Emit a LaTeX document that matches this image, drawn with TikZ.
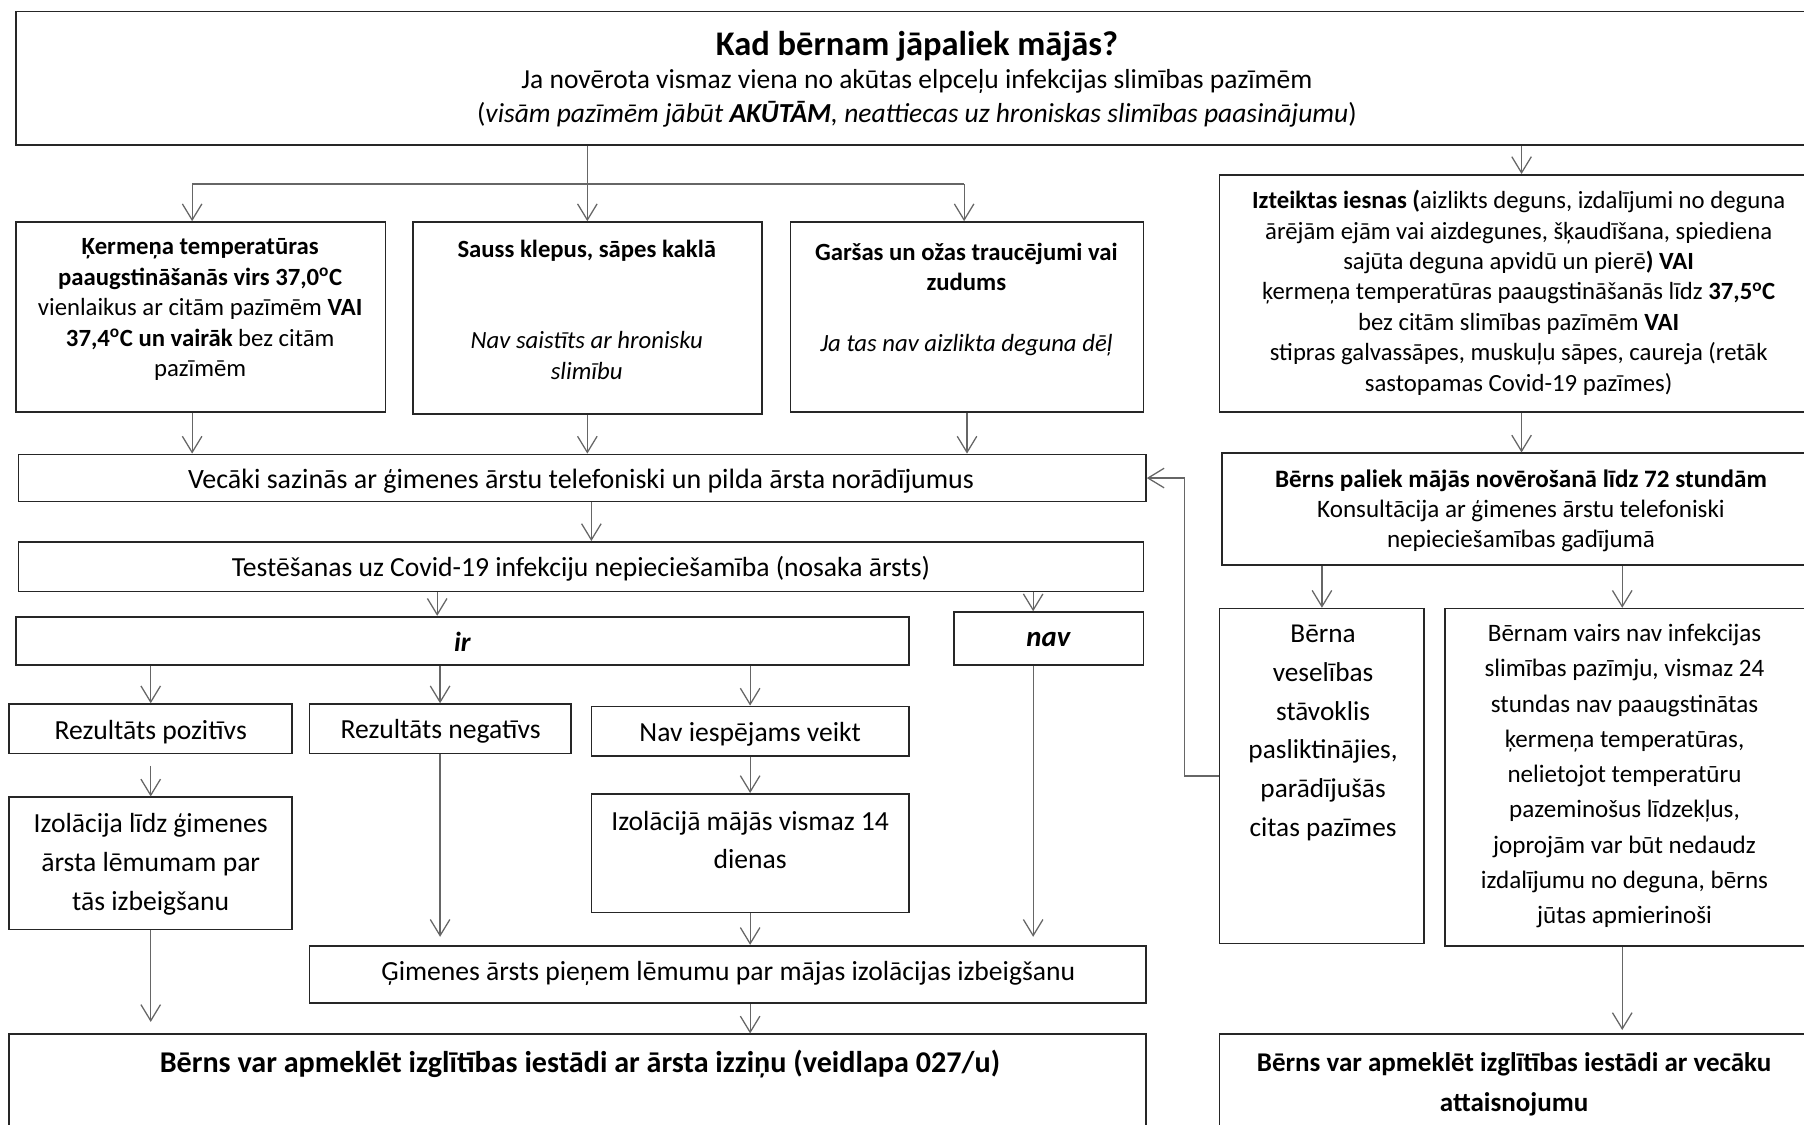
\documentclass[tikz,border=0pt]{standalone}
\usepackage{fontspec}
\setmainfont{Carlito}
\usetikzlibrary{arrows.meta,fit}
\begin{document}
\begin{tikzpicture}[x=1pt,y=-1pt,
  box/.style={draw=black!85,line width=1.5pt,inner sep=0pt},
  txt/.style={align=center,inner sep=0pt,font=\fontsize{21.5}{26.5}\selectfont},
  big/.style={align=center,inner sep=0pt,font=\fontsize{24}{29}\selectfont},
  arr/.style={draw=black!60,line width=1.1pt,-{Straight Barb[length=14pt,width=17pt,line width=1.1pt]}},
  ln/.style={draw=black!60,line width=1.1pt}]
\useasboundingbox (0,0) rectangle (1568,977);
\clip (0,0) rectangle (1568,977);
\fill[white] (0,0) rectangle (1568,977);

% ---------- boxes ----------
\node[box,fit={(14,10) (1585,126)}] (top) {};
\node[box,fit={(14,193) (335,358)}] (A) {};
\node[box,fit={(359,193) (662,360)}] (B) {};
\node[box,fit={(687,193) (994,358)}] (C) {};
\node[box,fit={(1060,152) (1585,358)}] (D) {};
\node[box,fit={(16,395) (996,436)}] (E) {};
\node[box,fit={(16,471) (994,514)}] (F) {};
\node[box,fit={(14,536) (790,578)}] (G) {};
\node[box,fit={(829,532) (994,578)}] (H) {};
\node[box,fit={(8,612) (254,655)}] (I) {};
\node[box,fit={(269,612) (496,655)}] (J) {};
\node[box,fit={(514,614) (790,657)}] (K) {};
\node[box,fit={(8,693) (254,808)}] (L) {};
\node[box,fit={(514,690) (790,793)}] (N) {};
\node[box,fit={(269,822) (996,872)}] (M) {};
\node[box,fit={(8,899) (996,995)}] (O) {};
\node[box,fit={(1062,394) (1585,491)}] (P) {};
\node[box,fit={(1060,529) (1238,820)}] (Q) {};
\node[box,fit={(1256,529) (1585,822)}] (R) {};
\node[box,fit={(1060,899) (1585,995)}] (S) {};

% ---------- texts ----------
\node[inner sep=0pt,font=\bfseries\fontsize{30}{36}\selectfont] (title) at (797,40) {Kad bērnam jāpaliek mājās?};
\node[txt,font=\fontsize{23.9}{29}\selectfont] (sub) at (797,85.5) {Ja novērota vismaz viena no akūtas elpceļu infekcijas slimības pazīmēm\\(\textit{visām pazīmēm jābūt \textbf{AKŪTĀM}, neattiecas uz hroniskas slimības paasinājumu})};
\node[txt] (At) at (174,269) {\textbf{Ķermeņa temperatūras}\\\textbf{paaugstināšanās virs 37,0\textsuperscript{o}C}\\vienlaikus ar citām pazīmēm \textbf{VAI}\\\textbf{37,4\textsuperscript{o}C un vairāk} bez citām\\pazīmēm};
\node[txt] (Bt) at (510,269) {\textbf{Sauss klepus, sāpes kaklā}\\[53pt]\textit{Nav saistīts ar hronisku}\\\textit{slimību}};
\node[txt] (Ct) at (840,260.5) {\textbf{Garšas un ožas traucējumi vai}\\\textbf{zudums}\\[26.5pt]\textit{Ja tas nav aizlikta deguna dēļ}};
\node[txt] (Dt) at (1320,254.5) {\textbf{Izteiktas iesnas (}aizlikts deguns, izdalījumi no deguna\\ārējām ejām vai aizdegunes, šķaudīšana, spiediena\\sajūta deguna apvidū un pierē\textbf{) VAI}\\ķermeņa temperatūras paaugstināšanās līdz \textbf{37,5\textsuperscript{o}C}\\bez citām slimības pazīmēm \textbf{VAI}\\stipras galvassāpes, muskuļu sāpes, caureja (retāk\\sastopamas Covid-19 pazīmes)};
\node[big,font=\fontsize{24.3}{29}\selectfont] (Et) at (505,418) {Vecāki sazinās ar ģimenes ārstu telefoniski un pilda ārsta norādījumus};
\node[big] (Ft) at (505,494) {Testēšanas uz Covid-19 infekciju nepieciešamība (nosaka ārsts)};
\node[big] (Gt) at (402,558) {\textbf{\textit{ir}}};
\node[big,font=\fontsize{25}{29}\selectfont] (Ht) at (911.5,556) {\textbf{\textit{nav}}};
\node[big] (It) at (131,636) {Rezultāts pozitīvs};
\node[big] (Jt) at (383,636) {Rezultāts negatīvs};
\node[big] (Kt) at (652,638) {Nav iespējams veikt};
\node[big,font=\fontsize{24}{34}\selectfont] (Lt) at (131,751) {Izolācija līdz ģimenes\\ārsta lēmumam par\\tās izbeigšanu};
\node[big,font=\fontsize{24}{33}\selectfont] (Nt) at (652,730.5) {Izolācijā mājās vismaz 14\\dienas};
\node[big] (Mt) at (633,846) {Ģimenes ārsts pieņem lēmumu par mājas izolācijas izbeigšanu};
\node[txt,font=\bfseries\fontsize{26.2}{30}\selectfont] (Ot) at (504,925) {Bērns var apmeklēt izglītības iestādi ar ārsta izziņu (veidlapa 027/u)};
\node[txt,font=\fontsize{21.8}{26}\selectfont] (Pt) at (1322,444) {\textbf{Bērns paliek mājās novērošanā līdz 72 stundām}\\Konsultācija ar ģimenes ārstu telefoniski\\nepieciešamības gadījumā};
\node[txt,font=\fontsize{23.7}{33.6}\selectfont] (Qt) at (1150,637) {Bērna\\veselības\\stāvoklis\\pasliktinājies,\\parādījušās\\citas pazīmes};
\node[txt,font=\fontsize{21.8}{30.6}\selectfont] (Rt) at (1412,674.5) {Bērnam vairs nav infekcijas\\slimības pazīmju, vismaz 24\\stundas nav paaugstinātas\\ķermeņa temperatūras,\\nelietojot temperatūru\\pazeminošus līdzekļus,\\joprojām var būt nedaudz\\izdalījumu no deguna, bērns\\jūtas apmierinoši};
\node[txt,font=\fontsize{23.5}{35}\selectfont] (St) at (1316,942.5) {\textbf{Bērns var apmeklēt izglītības iestādi ar vecāku}\\\textbf{attaisnojumu}};

% ---------- connectors ----------
\coordinate (jA) at (167,160);
\coordinate (jC) at (838,160);
\coordinate (x167) at (167,0);
\coordinate (x514) at (514,0);
\coordinate (x380) at (380,0);
\coordinate (x898) at (898,0);
\coordinate (x1410) at (1410,0);

\draw[ln] (jA) -- (jC);
\draw[arr] (top.south -| B.north) -- (B.north);
\draw[arr] (jA) -- (jA |- A.north);
\draw[arr] (jC) -- (jC |- C.north);
\draw[arr] (top.south -| D.north) -- (D.north);

\draw[arr] (A.south -| x167) -- (E.north -| x167);
\draw[arr] (B.south) -- (B.south |- E.north);
\draw[arr] (C.south) -- (C.south |- E.north);
\draw[arr] (E.south -| x514) -- (F.north -| x514);
\draw[arr] (F.south -| x380) -- (G.north -| x380);
\draw[arr] (F.south -| x898) -- (H.north -| x898);
\draw[arr] (G.south -| I.north) -- (I.north);
\draw[arr] (G.south -| J.north) -- (J.north);
\draw[arr] (G.south -| K.north) -- (K.north);
\draw[arr,shorten <=10pt] (I.south) -- (L.north);
\draw[arr,shorten >=7pt] (J.south) -- (J.south |- M.north);
\draw[arr] (K.south) -- (N.north);
\draw[arr] (N.south) -- (N.south |- M.north);
\draw[arr,shorten >=7pt] (H.south -| x898) -- (M.north -| x898);
\draw[arr,shorten >=10pt] (L.south) -- (L.south |- O.north);
\draw[arr] (M.south -| N.south) -- (O.north -| N.south);

\draw[arr] (D.south) -- (D.south |- P.north);
\draw[arr] (P.south -| Q.north) -- (Q.north);
\draw[arr] (P.south -| x1410) -- (R.north -| x1410);
\draw[arr,shorten >=3pt] (R.south -| x1410) -- (S.north -| x1410);
\draw[arr] (Q.west) -- ++(-30,0) |- (E.east);
\end{tikzpicture}
\end{document}
